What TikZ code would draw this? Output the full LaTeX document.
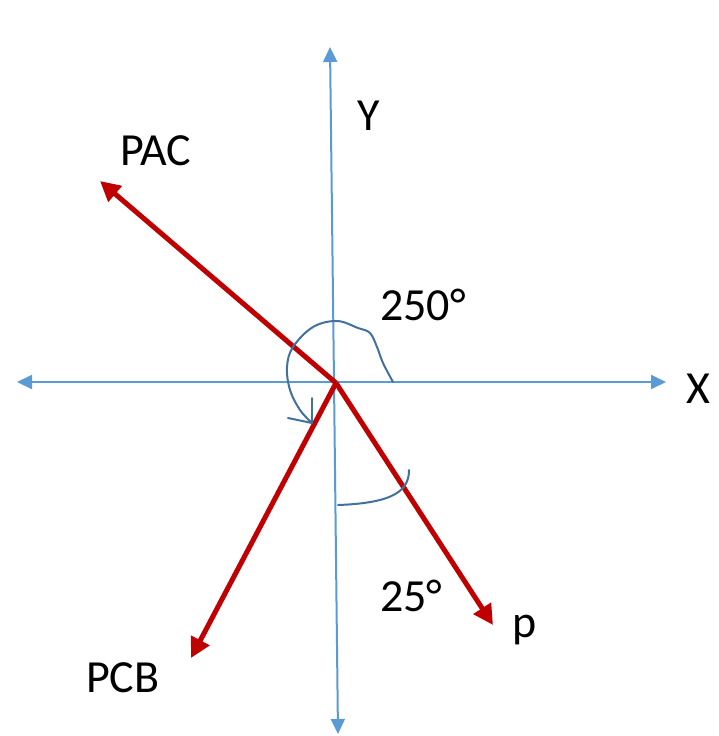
\documentclass[tikz,border=0pt]{standalone}
\usepackage{fontspec}
\setmainfont{Carlito}
\usetikzlibrary{arrows.meta}
\definecolor{axisblue}{HTML}{5B9BD5}
\definecolor{vecred}{HTML}{C00000}
\definecolor{inkblue}{HTML}{41719C}
\begin{document}
\begin{tikzpicture}[x=1pt,y=-1pt,
  axisline/.style={draw=axisblue,line width=2pt,-{Triangle[length=15pt,width=14pt]}},
  vecline/.style={draw=vecred,line width=5pt,-{Triangle[length=20pt,width=20pt]}},
  inkline/.style={draw=inkblue,line width=2pt,line cap=round,line join=round},
  lbl/.style={inner sep=0pt,anchor=base west,font=\fontsize{46}{52}\selectfont}]
\useasboundingbox (0,0) rectangle (718,736);
\fill[white] (0,0) rectangle (718,736);
% axes
\coordinate (xl) at (17,382);
\coordinate (xr) at (666,382);
\coordinate (yt) at (330,47);
\coordinate (yb) at (338,734);
\coordinate (ymid) at (334,382);
\draw[axisline] (ymid) -- (xl);
\draw[axisline] (ymid) -- (xr);
\draw[axisline] (ymid) -- (yt);
\draw[axisline] (ymid) -- (yb);
% vectors
\coordinate (O) at (336,383);
\coordinate (pac) at (100,181);
\coordinate (pcb) at (191,658);
\coordinate (pp) at (493,625);
\draw[vecline] (O) -- (pac);
\draw[vecline] (O) -- (pcb);
\draw[vecline] (O) -- (pp);
% hand-drawn angle marks
\draw[inkline] plot[smooth,tension=0.6] coordinates {(393,382) (383,363) (377,347) (370,333) (358,328) (337,321) (313,327) (293,347) (287,367) (290,390) (300,410) (312,423)};
\coordinate (barbtip) at (312,423);
\draw[inkline] (barbtip) -- (312,398);
\draw[inkline] (barbtip) -- (288,418);
\coordinate (arcA) at (338,505);
\coordinate (arcB) at (409,470);
\draw[inkline] (arcA) .. controls (395,503) and (409,490) .. (arcB);
% labels
\node[lbl] (ly) at (357,130) {Y};
\node[lbl] (lpac) at (120,165) {PAC};
\node[lbl] (l250) at (380,320) {250°};
\node[lbl] (lx) at (686,403) {X};
\node[lbl] (l25) at (380,611) {25°};
\node[lbl] (lp) at (512,637) {p};
\node[lbl] (lpcb) at (86,692) {PCB};
\end{tikzpicture}
\end{document}
